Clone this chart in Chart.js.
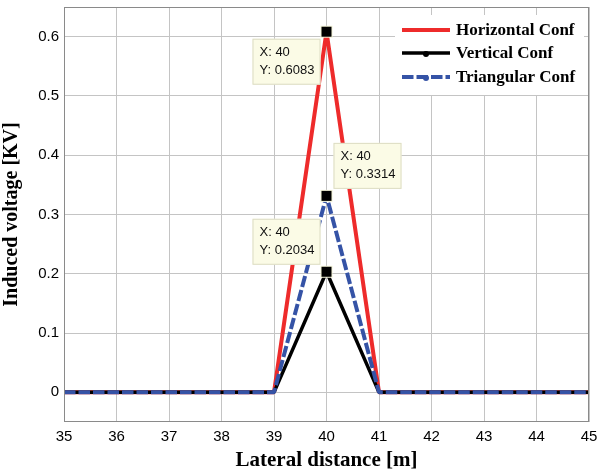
<!DOCTYPE html>
<html lang="en">
<head>
  <meta charset="UTF-8" />
  <title>Induced voltage vs lateral distance</title>
  <script src="https://cdn.jsdelivr.net/npm/chart.js"></script>
  <style>
    html, body { margin: 0; padding: 0; background: #fff; }
    #wrap { width: 598px; height: 473px; position: relative; }
  </style>
</head>
<body>
  <div id="wrap"><canvas id="chart" width="598" height="473"></canvas></div>

  <script>
    // data
    const lateralDistance = [35, 36, 37, 38, 39, 40, 41, 42, 43, 44, 45];
    const horizontalConf  = [0, 0, 0, 0, 0, 0.6083, 0, 0, 0, 0, 0];
    const verticalConf    = [0, 0, 0, 0, 0, 0.2034, 0, 0, 0, 0, 0];
    const triangularConf  = [0, 0, 0, 0, 0, 0.3314, 0, 0, 0, 0, 0];
    const seriesNames = ['Horizontal Conf', 'Vertical Conf', 'Triangular Conf'];
    const yTicks = [0, 0.1, 0.2, 0.3, 0.4, 0.5, 0.6];
    const xTicks = [35, 36, 37, 38, 39, 40, 41, 42, 43, 44, 45];

    const toPoints = arr => lateralDistance.map((x, i) => ({ x: x, y: arr[i] }));

    const serif = "'Liberation Serif', 'Times New Roman', serif";
    const sans = "'Liberation Sans', Arial, sans-serif";

    // frame box + MATLAB-like data tips + legend
    const extras = {
      id: 'extras',
      afterDatasetsDraw(chart) {
        const { ctx, chartArea: a, scales: { x, y } } = chart;
        ctx.save();
        ctx.strokeStyle = '#8a8a8a';
        ctx.lineWidth = 1;
        ctx.strokeRect(a.left + 0.5, a.top + 0.5, a.right - a.left - 1, a.bottom - a.top - 1);

        // data tips
        const tips = [
          { ds: 0, dx: -74, dy: 7 },
          { ds: 2, dx: 7, dy: -53 },
          { ds: 1, dx: -74, dy: -53 }
        ];
        tips.forEach(t => {
          const arr = chart.data.datasets[t.ds].data;
          let best = arr[0];
          arr.forEach(p => { if (p.y > best.y) best = p; });
          const px = x.getPixelForValue(best.x);
          const py = y.getPixelForValue(best.y);
          const bx = px + t.dx, by = py + t.dy;
          ctx.fillStyle = '#fbfbe6';
          ctx.strokeStyle = '#dcdcc4';
          ctx.lineWidth = 1;
          ctx.fillRect(bx, by, 68, 46);
          ctx.strokeRect(bx + 0.5, by + 0.5, 67, 45);
          ctx.fillStyle = '#111';
          ctx.font = '13px ' + sans;
          ctx.textAlign = 'left';
          ctx.textBaseline = 'middle';
          ctx.fillText('X: ' + best.x, bx + 7, by + 14);
          ctx.fillText('Y: ' + best.y.toFixed(4), bx + 7, by + 32);
          // marker
          ctx.fillStyle = '#f4f4d8';
          ctx.fillRect(px - 6, py - 6, 12, 12);
          ctx.fillStyle = '#000';
          ctx.fillRect(px - 5, py - 5, 10, 10);
        });

        // legend
        ctx.fillStyle = '#fff';
        ctx.fillRect(395, 15, 189, 80);
        const rows = [30, 53, 77];
        chart.data.datasets.forEach((ds, i) => {
          const ly = rows[i];
          ctx.strokeStyle = ds.borderColor;
          ctx.lineWidth = ds.borderWidth;
          ctx.setLineDash(ds.borderDash || []);
          ctx.beginPath();
          ctx.moveTo(402, ly);
          ctx.lineTo(450, ly);
          ctx.stroke();
          ctx.setLineDash([]);
          if (i > 0) {
            ctx.fillStyle = ds.borderColor;
            ctx.beginPath();
            ctx.arc(426, ly + 1, 3, 0, Math.PI * 2);
            ctx.fill();
          }
          ctx.fillStyle = '#000';
          ctx.font = 'bold 17px ' + serif;
          ctx.textAlign = 'left';
          ctx.textBaseline = 'middle';
          ctx.fillText(ds.label, 456, ly + 1);
        });
        ctx.restore();
      }
    };

    new Chart(document.getElementById('chart'), {
      type: 'line',
      data: {
        datasets: [
          {
            label: seriesNames[0],
            data: toPoints(horizontalConf),
            borderColor: '#ee2b2b',
            borderWidth: 4,
            borderJoinStyle: 'bevel',
            pointRadius: 0,
            order: 2
          },
          {
            label: seriesNames[1],
            data: toPoints(verticalConf),
            borderColor: '#000000',
            borderWidth: 3.5,
            borderJoinStyle: 'bevel',
            pointRadius: 0,
            order: 1
          },
          {
            label: seriesNames[2],
            data: toPoints(triangularConf),
            borderColor: '#3553a6',
            borderWidth: 4,
            borderDash: [11.5, 3],
            borderJoinStyle: 'bevel',
            pointRadius: 0,
            order: 0
          }
        ]
      },
      options: {
        responsive: false,
        animation: false,
        layout: { padding: { top: 7, right: 9, left: 0, bottom: 0 } },
        plugins: {
          legend: { display: false },
          tooltip: { enabled: false }
        },
        scales: {
          x: {
            type: 'linear',
            min: 35,
            max: 45,
            afterBuildTicks: s => { s.ticks = xTicks.map(v => ({ value: v })); },
            afterFit: s => { s.height = 51; s.paddingLeft = 0; s.paddingRight = 0; },
            grid: { color: '#c4c4c4', borderDash: [1, 2], drawTicks: false },
            border: { display: false },
            ticks: { color: '#000', font: { family: sans, size: 15 }, padding: 6, maxRotation: 0 },
            title: {
              display: true,
              text: 'Lateral distance [m]',
              color: '#000',
              font: { family: serif, size: 21, weight: 'bold' },
              padding: { top: 3, bottom: 0 }
            }
          },
          y: {
            min: -0.05,
            max: 0.65,
            afterBuildTicks: s => { s.ticks = yTicks.map(v => ({ value: v })); },
            afterFit: s => { s.width = 64; s.paddingTop = 0; s.paddingBottom = 0; },
            grid: { color: '#c4c4c4', borderDash: [1, 2], drawTicks: false },
            border: { display: false },
            ticks: { color: '#000', font: { family: sans, size: 15 }, padding: 5 },
            title: {
              display: true,
              text: 'Induced voltage [KV]',
              color: '#000',
              font: { family: serif, size: 20, weight: 'bold' },
              padding: { top: 0, bottom: 4 }
            }
          }
        }
      },
      plugins: [extras]
    });
  </script>
</body>
</html>
